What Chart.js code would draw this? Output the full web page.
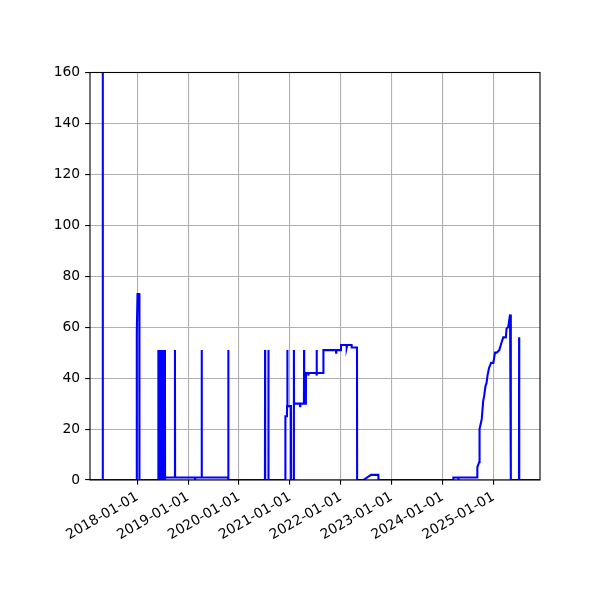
<!DOCTYPE html>
<html>
<head>
<meta charset="utf-8">
<script src="https://cdn.jsdelivr.net/npm/chart.js@4/dist/chart.umd.min.js"></script>
<style>
html,body{margin:0;padding:0;background:#fff;}
#wrap{width:600px;height:600px;position:relative;}
</style>
</head>
<body>
<div id="wrap"><canvas id="c" width="600" height="600"></canvas></div>
<script>
const dates = [
'2017-01-26','2017-04-26','2017-04-27','2017-04-28','2017-04-29',
'2017-12-27','2017-12-28','2018-01-02','2018-01-15','2018-01-16',
'2018-05-30','2018-05-31','2018-06-02','2018-06-06','2018-06-09','2018-06-13','2018-06-16',
'2018-06-20','2018-06-23','2018-06-27','2018-06-30','2018-07-04','2018-07-07','2018-07-11',
'2018-07-14','2018-07-18','2018-07-19','2018-09-27','2018-09-28','2018-09-29',
'2019-02-18','2019-02-19','2019-02-20','2019-04-07','2019-04-08','2019-04-09',
'2019-10-15','2019-10-16','2019-10-17',
'2020-07-05','2020-07-06','2020-07-07','2020-07-29','2020-07-30','2020-07-31',
'2020-11-28','2020-11-29','2020-12-10','2020-12-11','2020-12-13','2020-12-14',
'2021-01-08','2021-01-09','2021-01-28','2021-01-29','2021-01-30',
'2021-03-13','2021-03-14','2021-03-16','2021-04-11','2021-04-12','2021-04-13',
'2021-04-25','2021-04-26','2021-05-12','2021-05-13','2021-05-15',
'2021-07-10','2021-07-11','2021-07-12','2021-07-13','2021-08-28','2021-08-29',
'2021-11-27','2021-11-28','2021-11-30','2022-01-02','2022-01-03',
'2022-02-11','2022-02-12','2022-02-16','2022-03-19','2022-03-20','2022-04-27','2022-04-28',
'2022-06-11','2022-08-06','2022-09-27','2022-09-28',
'2024-03-18','2024-03-19','2024-04-23','2024-04-24','2024-04-25','2024-09-06',
'2024-09-07','2024-09-14','2024-09-20','2024-09-23','2024-10-09','2024-10-19',
'2024-10-26','2024-11-05','2024-11-12','2024-11-19','2024-11-30','2024-12-15',
'2024-12-31','2025-01-12','2025-01-24','2025-02-12','2025-02-28','2025-03-12',
'2025-03-31','2025-04-05','2025-04-17','2025-04-30','2025-05-05','2025-05-06',
'2025-07-03','2025-07-04','2025-07-05','2025-12-01'
];
const values = [
0,0,200,116,0,
0,58,73,73,0,
0,51,0,51,0,51,0,
51,0,51,0,51,0,51,
0,51,1,1,51,1,
1,0,1,1,51,1,
1,51,0,
0,51,0,0,51,0,
0,25,25,29,51,29,
29,0,0,51,30,
30,29,30,30,51,30,
30,42,42,41,42,
42,41,51,42,42,51,
51,50,51,51,53,
53,52,53,53,52,52,0,
0,2,2,0,
0,1,1,0,1,1,
5,6,7,20,24,31,
33,37,38,41,44,46,
46,50,50,51,54,56,
56,59.5,60,65,65,0,
0,56,0,0
];
const xTickLabels = ['2018-01-01','2019-01-01','2020-01-01','2021-01-01','2022-01-01','2023-01-01','2024-01-01','2025-01-01'];
const yTicks = [0,20,40,60,80,100,120,140,160];
const xStart = '2017-01-26';
const xEnd = '2025-12-01';

const points = dates.map((d,i)=>({x:Date.parse(d), y:values[i]}));
const xTickVals = xTickLabels.map(s=>Date.parse(s));
const FONT = {family:'"DejaVu Sans", sans-serif', size:13.89};

const framePlugin = {
  id:'frame',
  afterDraw(chart){
    const a = chart.chartArea, ctx = chart.ctx;
    ctx.save();
    ctx.strokeStyle = '#000';
    ctx.lineWidth = 1.1;
    ctx.strokeRect(a.left, a.top, a.right-a.left, a.bottom-a.top);
    ctx.restore();
  }
};

new Chart(document.getElementById('c'), {
  type:'line',
  data:{datasets:[{
    data:points,
    borderColor:'#0000ff',
    borderWidth:2.08,
    pointRadius:0,
    tension:0,
    fill:false
  }]},
  options:{
    responsive:false,
    animation:false,
    events:[],
    layout:{padding:{top:72.5,right:60,left:0,bottom:0}},
    plugins:{legend:{display:false},tooltip:{enabled:false}},
    scales:{
      x:{
        type:'linear',
        min:Date.parse(xStart),
        max:Date.parse(xEnd),
        afterBuildTicks(scale){ scale.ticks = xTickVals.map(v=>({value:v})); },
        afterFit(scale){ scale.height = 120; },
        grid:{color:'#b0b0b0',lineWidth:1.1,tickColor:'#000',tickLength:4.86,drawTicks:true},
        border:{display:false},
        ticks:{
          autoSkip:false,
          minRotation:30,maxRotation:30,
          padding:4,
          color:'#000',
          font:FONT,
          callback(v){ const i = xTickVals.indexOf(v); return i>=0 ? xTickLabels[i] : ''; }
        }
      },
      y:{
        min:0,max:160,
        afterBuildTicks(scale){ scale.ticks = yTicks.map(v=>({value:v})); },
        afterFit(scale){ scale.width = 90; },
        grid:{color:'#b0b0b0',lineWidth:1.1,tickColor:'#000',tickLength:4.86},
        border:{display:false},
        ticks:{padding:5,color:'#000',font:FONT,callback(v){return String(v);}}
      }
    }
  },
  plugins:[framePlugin]
});
</script>
</body>
</html>
